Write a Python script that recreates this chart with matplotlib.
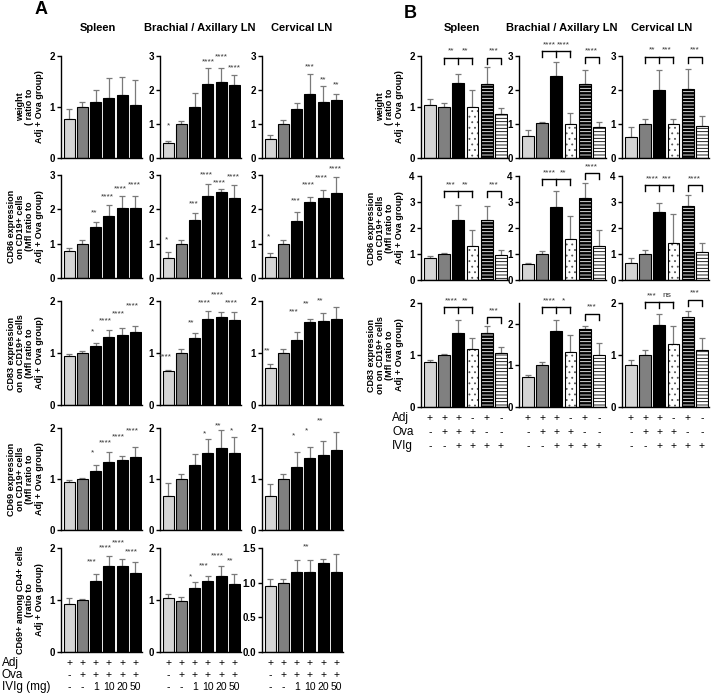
import matplotlib
matplotlib.use("Agg")
import matplotlib.pyplot as plt
import numpy as np
from matplotlib.transforms import blended_transform_factory

plt.rcParams['font.family'] = ['Liberation Sans', 'DejaVu Sans']
plt.rcParams['hatch.linewidth'] = 0.6

# ---------------- data ----------------
TISSUES = ["Spleen", "Brachial / Axillary LN", "Cervical LN"]

A_ROW_LABELS = [
    "weight\n( ratio to\nAdj + Ova group)",
    "CD86 expression\non CD19+ cells\n(Mfl ratio to\nAdj + Ova group)",
    "CD83 expression\non on CD19+ cells\n(Mfl ratio to\nAdj + Ova group)",
    "CD69 expression\non CD19+ cells\n(Mfl ratio to\nAdj + Ova group)",
    "CD69+ among CD4+ cells\n(ratio to\nAdj + Ova group)",
]
B_ROW_LABELS = A_ROW_LABELS[:3]

# table rows
A_TABLE_NAMES = ["Adj", "Ova", "IVIg (mg)"]
A_ADJ = ["+", "+", "+", "+", "+", "+"]
A_OVA = ["-", "+", "+", "+", "+", "+"]
A_IVIG = ["-", "-", "1", "10", "20", "50"]
B_TABLE_NAMES = ["Adj", "Ova", "IVIg"]
B_ADJ = ["+", "+", "+", "-", "+", "-"]
B_OVA = ["-", "+", "+", "+", "-", "-"]
B_IVIG = ["-", "-", "+", "+", "+", "+"]

# y-axis maxima (per row, per tissue)
A_YMAX = [[2, 3, 3], [3, 3, 3], [2, 2, 2], [2, 2, 2], [2, 2, 1.5]]
B_YMAX = [[2, 3, 3], [4, 4, 4], [2, 2.5, 2]]

# ---- Panel A: means (ratio), SD, significance ----
A_WEIGHT_MEAN = [[0.77, 1.00, 1.09, 1.18, 1.23, 1.03],
                 [0.44, 1.00, 1.50, 2.17, 2.23, 2.15],
                 [0.57, 1.00, 1.44, 1.87, 1.66, 1.72]]
A_WEIGHT_SD = [[0.20, 0.10, 0.25, 0.38, 0.36, 0.49],
               [0.06, 0.08, 0.41, 0.47, 0.41, 0.30],
               [0.12, 0.12, 0.18, 0.60, 0.45, 0.15]]
A_WEIGHT_SIG = [["", "", "", "", "", ""],
                ["*", "", "", "****", "****", "****"],
                ["", "", "", "***", "**", "**"]]
A_WEIGHT_SIG_Y = [[0, 0, 0, 0, 0, 0],
                  [0.94, 0, 0, 2.82, 2.98, 2.64],
                  [0, 0, 0, 2.69, 2.30, 2.14]]

A_CD86_MEAN = [[0.80, 1.00, 1.50, 1.82, 2.03, 2.05],
               [0.59, 1.00, 1.70, 2.39, 2.51, 2.32],
               [0.61, 1.00, 1.66, 2.21, 2.34, 2.48]]
A_CD86_SD = [[0.06, 0.10, 0.12, 0.30, 0.37, 0.35],
             [0.17, 0.12, 0.20, 0.36, 0.09, 0.38],
             [0.13, 0.12, 0.26, 0.16, 0.21, 0.46]]
A_CD86_SIG = [["", "", "**", "****", "****", "****"],
              ["*", "", "***", "****", "****", "****"],
              ["*", "", "***", "****", "****", "****"]]
A_CD86_SIG_Y = [[0, 0, 1.90, 2.37, 2.59, 2.70],
                [1.10, 0, 2.15, 3.00, 2.78, 2.95],
                [1.19, 0, 2.24, 2.70, 2.91, 3.17]]

A_CD83_MEAN = [[0.94, 1.00, 1.14, 1.31, 1.35, 1.40],
               [0.66, 1.00, 1.28, 1.66, 1.70, 1.63],
               [0.72, 1.00, 1.25, 1.59, 1.61, 1.65]]
A_CD83_SD = [[0.04, 0.04, 0.05, 0.13, 0.13, 0.12],
             [0.02, 0.08, 0.11, 0.14, 0.09, 0.16],
             [0.07, 0.08, 0.16, 0.07, 0.15, 0.24]]
A_CD83_SIG = [["", "", "*", "****", "****", "****"],
              ["****", "", "**", "****", "****", "****"],
              ["**", "", "***", "**", "**", ""]]
A_CD83_SIG_Y = [[0, 0, 1.40, 1.61, 1.75, 1.90],
                [0.92, 0, 1.57, 1.97, 2.12, 1.97],
                [1.05, 0, 1.80, 1.94, 2.01, 0]]

A_CD69_MEAN = [[0.94, 1.00, 1.16, 1.34, 1.37, 1.43],
               [0.66, 1.00, 1.28, 1.51, 1.60, 1.51],
               [0.66, 1.00, 1.24, 1.42, 1.48, 1.56]]
A_CD69_SD = [[0.04, 0.02, 0.11, 0.18, 0.09, 0.20],
             [0.27, 0.10, 0.21, 0.28, 0.37, 0.31],
             [0.24, 0.10, 0.29, 0.20, 0.27, 0.37]]
A_CD69_SIG = [["", "", "*", "****", "****", "****"],
              ["", "", "", "*", "**", "*"],
              ["", "", "*", "*", "**", ""]]
A_CD69_SIG_Y = [[0, 0, 1.51, 1.70, 1.83, 1.94],
                [0, 0, 0, 1.89, 2.05, 1.95],
                [0, 0, 1.85, 1.94, 2.13, 0]]

A_CD4_MEAN = [[0.92, 1.00, 1.37, 1.65, 1.65, 1.52],
              [1.03, 0.99, 1.23, 1.36, 1.46, 1.30],
              [0.95, 1.00, 1.16, 1.15, 1.28, 1.16]]
A_CD4_SD = [[0.11, 0.02, 0.13, 0.20, 0.14, 0.22],
            [0.08, 0.06, 0.11, 0.11, 0.19, 0.20],
            [0.10, 0.06, 0.17, 0.17, 0.06, 0.25]]
A_CD4_SIG = [["", "", "***", "****", "****", "****"],
             ["", "", "*", "***", "****", "**"],
             ["", "", "", "**", "", ""]]
A_CD4_SIG_Y = [[0, 0, 1.74, 2.01, 2.09, 1.93],
               [0, 0, 1.45, 1.66, 1.85, 1.76],
               [0, 0, 0, 1.52, 0, 0]]

# ---- Panel B ----
B_WEIGHT_MEAN = [[1.03, 1.00, 1.48, 1.00, 1.46, 0.86],
                 [0.65, 1.02, 2.40, 1.00, 2.19, 0.91],
                 [0.63, 1.00, 2.01, 1.00, 2.03, 0.95]]
B_WEIGHT_SD = [[0.13, 0.08, 0.16, 0.33, 0.33, 0.13],
               [0.17, 0.04, 0.42, 0.33, 0.39, 0.16],
               [0.27, 0.16, 0.57, 0.16, 0.60, 0.29]]
B_WEIGHT_BRACKET_Y = [[1.97, 1.97], [3.15, 2.96], [2.98, 2.98]]
B_WEIGHT_BRACKET_SIG = [["**", "**", "***"], ["****", "****", "****"], ["**", "***", "***"]]

B_CD86_MEAN = [[0.84, 1.00, 2.29, 1.29, 2.29, 0.97],
               [0.61, 1.00, 2.80, 1.58, 3.15, 1.29],
               [0.67, 1.00, 2.62, 1.41, 2.84, 1.06]]
B_CD86_SD = [[0.09, 0.04, 0.59, 0.65, 0.55, 0.19],
             [0.06, 0.13, 0.62, 0.90, 0.59, 0.62],
             [0.16, 0.15, 0.36, 1.11, 0.43, 0.35]]
B_CD86_BRACKET_Y = [[3.42, 3.42], [3.87, 4.10], [3.65, 3.65]]
B_CD86_BRACKET_SIG = [["***", "**", "***"], ["****", "**", "****"], ["****", "***", "****"]]

B_CD83_MEAN = [[0.86, 1.00, 1.43, 1.11, 1.43, 1.03],
               [0.72, 1.00, 1.83, 1.33, 1.88, 1.24],
               [0.80, 1.00, 1.57, 1.21, 1.73, 1.10]]
B_CD83_SD = [[0.04, 0.02, 0.25, 0.21, 0.12, 0.13],
             [0.05, 0.08, 0.27, 0.40, 0.07, 0.30],
             [0.10, 0.09, 0.21, 0.35, 0.12, 0.22]]
B_CD83_BRACKET_Y = [[1.92, 1.73], [2.40, 2.24], [2.02, 2.06]]
B_CD83_BRACKET_SIG = [["****", "**", "***"], ["****", "*", "***"], ["***", "ns", "***"]]

# ---------------- layout / style ----------------
W, H = 714, 700
fig = plt.figure(figsize=(W / 100, H / 100), dpi=100)

A_COL_LEFT = [61, 160, 262]
A_COL_W = 81
A_ROWS = [(56, 158), (175, 278), (301, 405), (428, 530), (548, 652)]
B_COL_LEFT = [421, 519, 622]
B_COL_W = 87
B_ROWS = [(56, 158), (176, 280), (303, 407)]

A_FACES = ['#d4d4d4', '#808080', 'black', 'black', 'black', 'black']
B_FACES = ['#d4d4d4', '#808080', 'black', 'white', 'black', 'white']
B_HATCH = [None, None, None, '...', '-----', '-----']
B_HATCH_COL = ['black', 'black', 'black', '#555555', 'white', 'black']
A_STAR_DX = [0.0, -0.1, -0.25, -0.25, -0.3]
ERR_COL = '#7a7a7a'
TXT = 7
STAR_FS = 6


def make_ax(left, top, bottom, width):
    return fig.add_axes([left / W, 1 - bottom / H, width / W, (bottom - top) / H])


def style_ax(ax, ymax):
    ax.set_xlim(-0.62, 5.5)
    ax.set_ylim(0, ymax)
    for s in ['top', 'right']:
        ax.spines[s].set_visible(False)
    for s in ['left', 'bottom']:
        ax.spines[s].set_linewidth(1.0)
    ax.set_xticks([])
    if ymax == 1.5:
        ticks = [0, 0.5, 1.0, 1.5]
        ax.set_yticks(ticks)
        ax.set_yticklabels([f"{t:.1f}" for t in ticks])
    else:
        ticks = list(range(0, int(ymax) + 1))
        ax.set_yticks(ticks)
        ax.set_yticklabels([str(t) for t in ticks])
    ax.tick_params(axis='y', length=3, width=1.0, pad=1.5, labelsize=TXT)
    for lab in ax.get_yticklabels():
        lab.set_fontweight('bold')


def draw_errors(ax, mean, sd):
    x = np.arange(len(mean))
    ax.errorbar(x, mean, yerr=[np.zeros(len(sd)), sd], fmt='none', ecolor=ERR_COL,
                elinewidth=0.9, capsize=2.5, capthick=0.9, zorder=1)


def table(ax, rows, ypix, xlabel_pix=None, names=None):
    tr = blended_transform_factory(ax.transData, fig.transFigure)
    for r, vals in enumerate(rows):
        for i, v in enumerate(vals):
            ax.text(i, 1 - ypix[r] / H, v, transform=tr, ha='center', va='center',
                    fontsize=7.5, clip_on=False)
        if names is not None:
            fig.text(xlabel_pix / W, 1 - ypix[r] / H, names[r], ha='left', va='center',
                     fontsize=8.5)


# ---------------- Panel A ----------------
A_DATA = [
    (A_WEIGHT_MEAN, A_WEIGHT_SD, A_WEIGHT_SIG, A_WEIGHT_SIG_Y),
    (A_CD86_MEAN, A_CD86_SD, A_CD86_SIG, A_CD86_SIG_Y),
    (A_CD83_MEAN, A_CD83_SD, A_CD83_SIG, A_CD83_SIG_Y),
    (A_CD69_MEAN, A_CD69_SD, A_CD69_SIG, A_CD69_SIG_Y),
    (A_CD4_MEAN, A_CD4_SD, A_CD4_SIG, A_CD4_SIG_Y),
]
for r, (means, sds, sigs, sigys) in enumerate(A_DATA):
    top, bot = A_ROWS[r]
    for c in range(3):
        ax = make_ax(A_COL_LEFT[c], top, bot, A_COL_W)
        x = np.arange(6)
        draw_errors(ax, means[c], sds[c])
        ax.bar(x, means[c], width=0.82, color=A_FACES, edgecolor='black', linewidth=0.8, zorder=2)
        style_ax(ax, A_YMAX[r][c])
        for i, (s, yy) in enumerate(zip(sigs[c], sigys[c])):
            if s:
                ax.text(i + A_STAR_DX[r], yy, s, ha='center', va='center', fontsize=STAR_FS,
                        color='#333333', clip_on=False)
        if c == 0:
            ax.set_ylabel(A_ROW_LABELS[r], fontsize=6.5, fontweight='bold', labelpad=4,
                          linespacing=1.05)
        if r == 4:
            table(ax, [A_ADJ, A_OVA, A_IVIG], [663, 675, 687],
                  xlabel_pix=2 if c == 0 else None, names=A_TABLE_NAMES if c == 0 else None)

# ---------------- Panel B ----------------
B_DATA = [
    (B_WEIGHT_MEAN, B_WEIGHT_SD, B_WEIGHT_BRACKET_Y, B_WEIGHT_BRACKET_SIG),
    (B_CD86_MEAN, B_CD86_SD, B_CD86_BRACKET_Y, B_CD86_BRACKET_SIG),
    (B_CD83_MEAN, B_CD83_SD, B_CD83_BRACKET_Y, B_CD83_BRACKET_SIG),
]
for r, (means, sds, bys, bsig) in enumerate(B_DATA):
    top, bot = B_ROWS[r]
    for c in range(3):
        ax = make_ax(B_COL_LEFT[c], top, bot, B_COL_W)
        x = np.arange(6)
        ymax = B_YMAX[r][c]
        draw_errors(ax, means[c], sds[c])
        for i in range(6):
            if B_HATCH[i] is None:
                ax.bar(x[i], means[c][i], width=0.82, color=B_FACES[i], edgecolor='black',
                       linewidth=0.8, zorder=2)
            else:
                ax.bar(x[i], means[c][i], width=0.82, color=B_FACES[i],
                       edgecolor=B_HATCH_COL[i], hatch=B_HATCH[i], linewidth=0, zorder=2)
                ax.bar(x[i], means[c][i], width=0.82, fill=False, edgecolor='black',
                       linewidth=0.8, zorder=3)
        style_ax(ax, ymax)
        px_per_unit = (bot - top) / ymax
        leg = 6 / px_per_unit
        off = 6.5 / px_per_unit
        # left bracket (bar2-bar3-bar4)
        yl, yr = bys[c]
        ax.plot([1, 3], [yl, yl], color='black', lw=1.0, clip_on=False, zorder=4)
        for xx in (1, 2, 3):
            ax.plot([xx, xx], [yl, yl - leg], color='black', lw=1.0, clip_on=False, zorder=4)
        ax.text(1.5, yl + off, bsig[c][0], ha='center', va='center', fontsize=STAR_FS,
                color='#333333', clip_on=False)
        ax.text(2.5, yl + off, bsig[c][1], ha='center', va='center', fontsize=STAR_FS,
                color='#333333', clip_on=False)
        # right bracket (bar5-bar6)
        ax.plot([4, 4, 5, 5], [yr - leg, yr, yr, yr - leg], color='black', lw=1.0,
                clip_on=False, zorder=4)
        ax.text(4.5, yr + off, bsig[c][2], ha='center', va='center', fontsize=STAR_FS,
                color='#333333', clip_on=False)
        if c == 0:
            ax.set_ylabel(B_ROW_LABELS[r], fontsize=6.5, fontweight='bold', labelpad=4,
                          linespacing=1.05)
        if r == 2:
            table(ax, [B_ADJ, B_OVA, B_IVIG], [418, 432, 446],
                  xlabel_pix=392 if c == 0 else None, names=B_TABLE_NAMES if c == 0 else None)

# ---------------- titles ----------------
A_TITLE_X = [98, 200, 302]
B_TITLE_X = [462, 562, 662]
for t, xa, xb in zip(TISSUES, A_TITLE_X, B_TITLE_X):
    fig.text(xa / W, 1 - 28 / H, t, ha='center', va='center', fontsize=8, fontweight='bold')
    fig.text(xb / W, 1 - 28 / H, t, ha='center', va='center', fontsize=8, fontweight='bold')
fig.text(41 / W, 1 - 10 / H, "A", ha='center', va='center', fontsize=13, fontweight='bold')
fig.text(410 / W, 1 - 13 / H, "B", ha='center', va='center', fontsize=13, fontweight='bold')

fig.savefig("out.png", dpi=100)
